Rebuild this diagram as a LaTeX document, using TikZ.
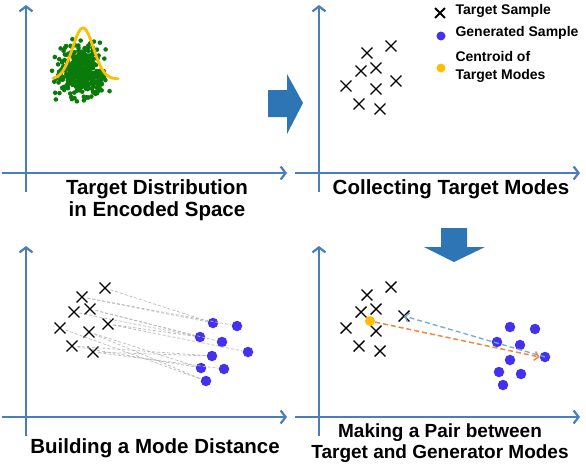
\documentclass[tikz,border=0pt]{standalone}
\usepackage{fontspec}
\setmainfont{Liberation Sans}
\newfontfamily\capfont{Liberation Sans Bold}
\usetikzlibrary{arrows.meta,shapes.misc}

\definecolor{axisblue}{RGB}{74,126,187}
\definecolor{bigblue}{RGB}{46,117,182}
\definecolor{genblue}{RGB}{66,50,240}
\definecolor{modegold}{RGB}{255,190,0}
\definecolor{scatgreen}{RGB}{10,122,10}
\definecolor{pairorange}{RGB}{240,136,60}
\definecolor{pairblue}{RGB}{111,168,220}

\tikzset{
  axis/.style={draw=axisblue,line width=2.2pt,-{Straight Barb[length=5pt,width=13pt,line width=2.2pt]}},
  target/.style={cross out,draw=black,line width=1.4pt,minimum size=9.5pt,inner sep=0pt},
  gen/.style={circle,fill=genblue,minimum size=10.5pt,inner sep=0pt},
  centroid/.style={circle,fill=modegold,minimum size=10pt,inner sep=0pt},
  caption/.style={font=\capfont\fontsize{20.5}{22}\selectfont,align=center},
  legend/.style={font=\capfont\fontsize{14}{17.5}\selectfont,align=left,anchor=west},
  modeline/.style={draw=gray!55,line width=0.7pt,dash pattern=on 3pt off 2pt},
  bigarrow/.style={fill=bigblue}
}

\begin{document}
\begin{tikzpicture}[x=1pt,y=-1pt]
\useasboundingbox (0,0) rectangle (586,466);

% axes of the four panels
\foreach \ox/\oy/\up in {26/173/168,319/173/168,26/417/171,319/417/171}{
  \draw[axis] (\ox-24,\oy) -- (\ox+261,\oy);
  \draw[axis] (\ox,\oy+19) -- (\ox,\oy-\up);
}

% panel 1: scatter and its density
\pgfmathsetseed{11}
\foreach \i in {1,...,420}{
  \pgfmathsetmacro\dx{11*(rand+rand+rand)}
  \pgfmathsetmacro\dy{12.5*(rand+rand+rand)}
  \fill[scatgreen] (80+\dx,72+\dy) circle (2.3pt);
}
\draw[modegold,line width=2.8pt,line cap=round,domain=53:118,samples=70,smooth]
  plot (\x,{79-51*exp(-((\x-83)/10.5)*((\x-83)/10.5)/2)});
\node[caption] (cap1) at (157,200) {Target Distribution\\in Encoded Space};

\fill[bigarrow] (268,90) -- (287,90) -- (287,74) -- (303,103) -- (287,134) -- (287,117) -- (268,117) -- cycle;

% panel 2: target modes
\foreach \x/\y [count=\i] in {391/46,367/53,361/71,376/68,346/86,376/89,396/81,359/104,380/109}
  \node[target] (c-t\i) at (\x,\y) {};
\node[caption] (cap2) at (451,189) {Collecting Target Modes};

% legend
\node[target,line width=1.8pt,minimum size=8pt] (lg-t) at (440,13) {};
\node[legend] (lg-t-txt) at (452,11) {Target Sample};
\node[gen,minimum size=9pt] (lg-g) at (441,36) {};
\node[legend] (lg-g-txt) at (452,33) {Generated Sample};
\node[centroid,minimum size=9pt] (lg-c) at (441,68) {};
\node[legend] (lg-c-txt) at (452,67) {Centroid of\\Target Modes};

\fill[bigarrow] (441,228) -- (467,228) -- (467,247) -- (485,247) -- (454,262) -- (424,247) -- (441,247) -- cycle;

% panel 3: mode distance
\foreach \x/\y [count=\i] in {105/288,82/297,74/312,90/309,60/328,89/332,108/324,72/346,93/352}
  \node[target] (b-t\i) at (\x,\y) {};
\foreach \x/\y [count=\i] in {213/323,237/326,200/337,222/342,248/352,212/356,201/368,224/369,206/381}
  \node[gen] (b-g\i) at (\x,\y) {};
\foreach \a/\b in {1/1,2/1,2/2,3/3,4/3,4/4,7/3,7/5,5/9,6/7,6/9,8/6,8/7,9/6,9/8}
  \draw[modeline] (b-t\a) -- (b-g\b);
\node[caption] (cap3) at (155,448) {Building a Mode Distance};

% panel 4: pair of modes
\foreach \x/\y [count=\i] in {391/287,367/295,361/312,376/309,346/328,376/331,404/316,359/346,380/351}
  \node[target] (p-t\i) at (\x,\y) {};
\foreach \x/\y [count=\i] in {510/327,535/329,497/342,520/345,545/357,510/360,499/372,521/374,503/385}
  \node[gen] (p-g\i) at (\x,\y) {};
\node[centroid] (p-c) at (370,321) {};
\draw[pairblue,line width=1.3pt,dash pattern=on 5pt off 3pt,-{Straight Barb[length=4pt,width=9pt]}]
  (p-g5.center) -- (p-t7.center);
\draw[pairorange,line width=1.5pt,dash pattern=on 5pt off 3pt,-{Straight Barb[length=4pt,width=9pt]}]
  (p-c) -- (p-g5.west);
\node[caption,font=\capfont\fontsize{19}{20.5}\selectfont] (cap4) at (440,443) {Making a Pair between\\Target and Generator Modes};

\end{tikzpicture}
\end{document}
